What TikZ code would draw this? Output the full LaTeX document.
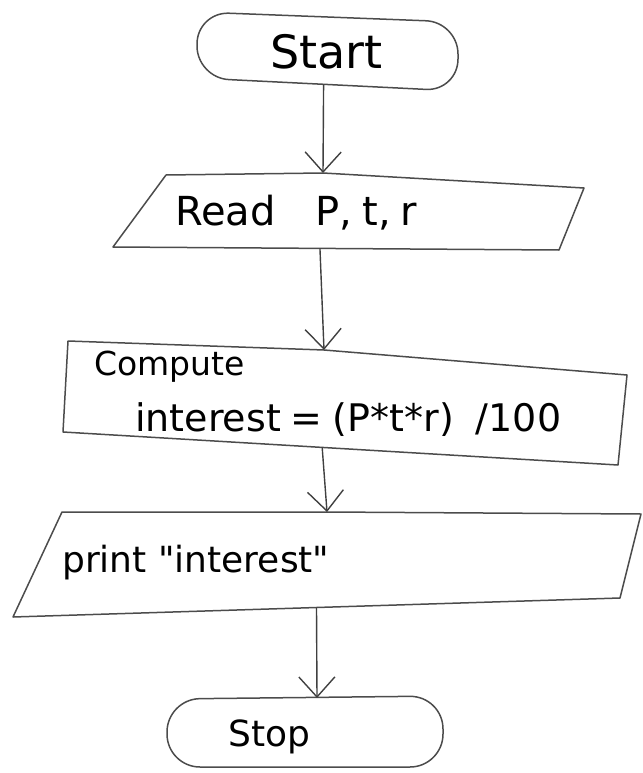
\documentclass[tikz,border=0pt]{standalone}
\usepackage{fontspec}
\setmainfont{DejaVu Sans}
\usetikzlibrary{arrows.meta,calc}
\begin{document}
\begin{tikzpicture}[x=1pt,y=-1pt,
  outline/.style={draw=black!70, line width=1.5pt, line join=round},
  flow/.style={draw=black!75, line width=1.4pt,
    -{Straight Barb[length=20pt,width=36pt,line width=1.4pt]}},
  txt/.style={anchor=west, inner sep=0pt, text=black}]
\useasboundingbox (0,0) rectangle (642,773);

% ---- corner points of the boxes ----
% start terminal
\coordinate (st-tl) at (197,12);
\coordinate (st-tr) at (458,22);
\coordinate (st-br) at (458,91);
\coordinate (st-bl) at (197,78);
% read (input) parallelogram
\coordinate (rd-tl) at (166,175);
\coordinate (rd-n)  at (323,173);
\coordinate (rd-tr) at (584,188);
\coordinate (rd-br) at (559,250);
\coordinate (rd-bl) at (113,247);
% compute (process) box
\coordinate (cp-tl) at (68,341);
\coordinate (cp-n)  at (324,350);
\coordinate (cp-tr) at (627,375);
\coordinate (cp-br) at (618,465);
\coordinate (cp-bl) at (63,432);
% print (output) parallelogram
\coordinate (pr-tl) at (62,512);
\coordinate (pr-n)  at (327,512);
\coordinate (pr-tr) at (641,514);
\coordinate (pr-br) at (620,598);
\coordinate (pr-bl) at (13,617);
% stop terminal
\coordinate (sp-tl) at (167,699);
\coordinate (sp-n)  at (317,698);
\coordinate (sp-tr) at (443,696);
\coordinate (sp-br) at (443,767);
\coordinate (sp-bl) at (167,767);

% exit points on the lower edges
\coordinate (st-s) at ($(st-bl)!0.485!(st-br)$);
\coordinate (rd-s) at ($(rd-bl)!0.464!(rd-br)$);
\coordinate (cp-s) at ($(cp-bl)!0.467!(cp-br)$);
\coordinate (pr-s) at ($(pr-bl)!0.5!(pr-br)$);

% ---- outlines ----
\draw[outline, rounded corners=32pt] (st-tl) -- (st-tr) -- (st-br) -- (st-bl) -- cycle;
\draw[outline] (rd-tl) -- (rd-n) -- (rd-tr) -- (rd-br) -- (rd-bl) -- cycle;
\draw[outline] (cp-tl) -- (cp-n) -- (cp-tr) -- (cp-br) -- (cp-bl) -- cycle;
\draw[outline] (pr-tl) -- (pr-n) -- (pr-tr) -- (pr-br) -- (pr-bl) -- cycle;
\draw[outline, rounded corners=33pt] (sp-tl) -- (sp-tr) -- (sp-br) -- (sp-bl) -- cycle;

% ---- texts ----
\node[txt, font=\fontsize{46}{46}\selectfont] (t-start) at (270,52) {Start};
\node[txt, font=\fontsize{40}{40}\selectfont] (t-read) at (175,213)
  {Read\hspace{40pt}P,\hspace{10pt}t,\hspace{10pt}r};
\node[txt, font=\fontsize{33}{33}\selectfont] (t-comp) at (94,367) {Compute};
\node[txt, font=\fontsize{38}{38}\selectfont] (t-formula) at (135,420)
  {interest\hspace{10pt}=\hspace{10pt}(P*t*r)\hspace{22pt}/100};
\node[txt, font=\fontsize{36}{36}\selectfont] (t-print) at (62,563)
  {print \textquotedbl interest\textquotedbl};
\node[txt, font=\fontsize{36}{36}\selectfont] (t-stop) at (228,737) {Stop};

% ---- connectors ----
\draw[flow] (st-s) -- (rd-n);
\draw[flow] (rd-s) -- (cp-n);
\draw[flow] (cp-s) -- (pr-n);
\draw[flow] (pr-s) -- (sp-n);
\end{tikzpicture}
\end{document}
